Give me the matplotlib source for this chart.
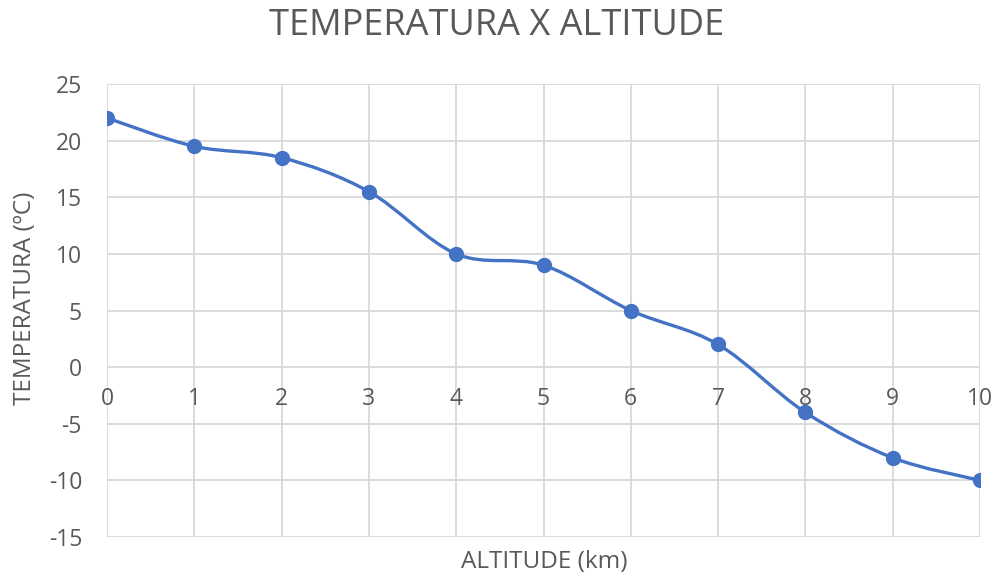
import numpy as np
import matplotlib
matplotlib.use("Agg")
from matplotlib import pyplot as plt
from matplotlib.path import Path
from matplotlib.patches import PathPatch

# dados
altitude = [0, 1, 2, 3, 4, 5, 6, 7, 8, 9, 10]
temperatura = [22, 19.5, 18.5, 15.5, 10, 9, 5, 2, -4, -8, -10]
y_ticks = [-15, -10, -5, 0, 5, 10, 15, 20, 25]

plt.rcParams['font.family'] = ['Open Sans', 'DejaVu Sans']
plt.rcParams['axes.unicode_minus'] = False
cinza = '#595959'
azul = '#4472C4'

fig = plt.figure(figsize=(10, 5.81), dpi=100)
ax = fig.add_axes([0.107, 0.0757, 0.873, 0.7797])

# curva suavizada (estilo Excel, Catmull-Rom -> Bezier)
pts = np.column_stack([altitude, temperatura]).astype(float)
n = len(pts)
verts = [pts[0]]
codes = [Path.MOVETO]
for i in range(n - 1):
    p0 = pts[i - 1] if i > 0 else pts[i]
    p1 = pts[i]
    p2 = pts[i + 1]
    p3 = pts[i + 2] if i + 2 < n else pts[i + 1]
    c1 = p1 + (p2 - p0) / 6
    c2 = p2 - (p3 - p1) / 6
    verts += [c1, c2, p2]
    codes += [Path.CURVE4] * 3
ax.add_patch(PathPatch(Path(verts, codes), fill=False, edgecolor=azul, lw=2.4, zorder=3))
ax.plot(altitude, temperatura, linestyle='none', marker='o', markersize=10, color=azul, zorder=4)

ax.set_xlim(0, 10)
ax.set_ylim(-15, 25)
ax.set_xticks(altitude)
ax.set_yticks(y_ticks)
ax.grid(True, color='#d9d9d9', linewidth=1.3)
ax.set_axisbelow(True)

for s in ['top', 'right', 'left']:
    ax.spines[s].set_visible(False)
ax.spines['bottom'].set_position(('data', 0))
ax.spines['bottom'].set_visible(False)

ax.tick_params(axis='both', length=0, labelsize=16.5, labelcolor=cinza)
ax.tick_params(axis='x', pad=14)
ax.tick_params(axis='y', pad=18)

fig.text(0.497, 0.955, 'TEMPERATURA X ALTITUDE', ha='center', va='center', fontsize=26, color=cinza)
fig.text(0.544, 0.032, 'ALTITUDE (km)', ha='center', va='center', fontsize=17.5, color=cinza)
fig.text(0.025, 0.487, 'TEMPERATURA (ºC)', ha='center', va='center', rotation=90, fontsize=17.5, color=cinza)

fig.savefig('out.png', dpi=100)
